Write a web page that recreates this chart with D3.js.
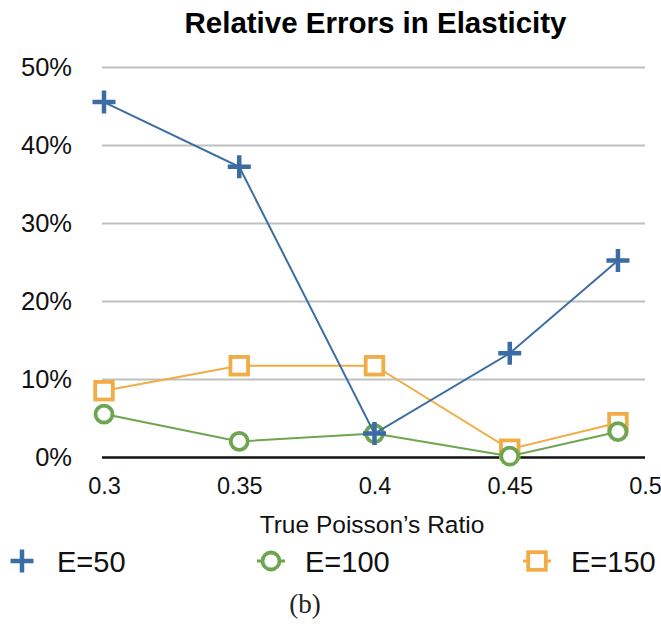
<!DOCTYPE html>
<html><head><meta charset="utf-8">
<script src="https://cdn.jsdelivr.net/npm/d3@7"></script>
<style>body{margin:0;background:#fff}svg{display:block}</style>
</head><body>
<script>
const xValues = [0.3, 0.35, 0.4, 0.45, 0.49];
const e50 = [45.5, 37.2, 3.0, 13.3, 25.2];
const e100 = [5.5, 2.0, 3.0, 0.1, 3.25];
const e150 = [8.5, 11.7, 11.7, 1.0, 4.4];
const seriesNames = ["E=50", "E=100", "E=150"];
const xTicks = [0.3, 0.35, 0.4, 0.45, 0.5];
const yTicks = [0, 10, 20, 30, 40, 50];

const W = 661, H = 633;
const font = "'Liberation Sans', Arial, Helvetica, sans-serif";
const svg = d3.select("body").append("svg").attr("width", W).attr("height", H);

const x = d3.scaleLinear().domain([0.3, 0.5]).range([104, 645]);
const y = d3.scaleLinear().domain([0, 50]).range([457, 67]);

const series = [
  {name: seriesNames[2], values: e150, color: "#f0ad45", shape: "square"},
  {name: seriesNames[1], values: e100, color: "#6ea551", shape: "circle"},
  {name: seriesNames[0], values: e50, color: "#3b6da4", shape: "plus"}
];

// title
svg.append("text").attr("x", 375.5).attr("y", 33).attr("text-anchor", "middle")
  .attr("font-family", font).attr("font-weight", "bold").attr("font-size", 29.5).attr("fill", "#000").text("Relative Errors in Elasticity");

// y axis + gridlines
const yAxis = d3.axisLeft(y).tickValues(yTicks).tickFormat(d => d + "%").tickSize(0).tickPadding(10);
const gy = svg.append("g").attr("transform", "translate(104,0)").call(yAxis);
gy.select(".domain").remove();
gy.selectAll(".tick line").attr("x1", -2).attr("x2", 645 - 104).attr("stroke", "#c0c0c0").attr("stroke-width", 2);
gy.selectAll(".tick text").attr("font-family", font).attr("font-size", 25.5).attr("fill", "#111").attr("x", -32);
gy.selectAll(".tick").filter(d => d === 0).select("line").attr("stroke", "#111").attr("stroke-width", 2.5);

const xAxis = d3.axisBottom(x).tickValues(xTicks).tickFormat(d => String(d)).tickSize(0).tickPadding(20);
const gx = svg.append("g").attr("transform", "translate(0,457)").call(xAxis);
gx.select(".domain").remove();
gx.selectAll(".tick text").attr("font-family", font).attr("font-size", 23.5).attr("fill", "#111");

svg.append("text").attr("x", 372).attr("y", 533).attr("text-anchor", "middle")
  .attr("font-family", font).attr("font-size", 24.5).attr("fill", "#111").text("True Poisson\u2019s Ratio");

function drawMarker(g, shape, color, cx, cy) {
  if (shape === "plus") {
    g.append("path").attr("d", `M${cx-11.5},${cy}H${cx+11.5}M${cx},${cy-11.5}V${cy+11.5}`)
      .attr("stroke", color).attr("stroke-width", 4.5).attr("fill", "none");
  } else if (shape === "circle") {
    g.append("circle").attr("cx", cx).attr("cy", cy).attr("r", 8.5)
      .attr("fill", "#fff").attr("stroke", color).attr("stroke-width", 3.8);
  } else {
    g.append("rect").attr("x", cx - 8.8).attr("y", cy - 8.8).attr("width", 17.6).attr("height", 17.6)
      .attr("fill", "#fff").attr("stroke", color).attr("stroke-width", 3.8);
  }
}

const line = d3.line().x((d, i) => x(xValues[i])).y(d => y(d));
series.forEach(s => {
  const g = svg.append("g");
  g.append("path").attr("d", line(s.values)).attr("fill", "none").attr("stroke", s.color).attr("stroke-width", 2);
  s.values.forEach((v, i) => drawMarker(g, s.shape, s.color, x(xValues[i]), y(v)));
});

// legend
const legendX = [22, 271, 537];
const legendTextX = [57, 305, 571];
[series[2], series[1], series[0]].forEach((s, i) => {
  const g = svg.append("g");
  const lx = legendX[i];
  if (s.shape !== "plus") {
    g.append("line").attr("x1", lx - 14).attr("x2", lx + 14).attr("y1", 561).attr("y2", 561).attr("stroke", s.color).attr("stroke-width", 3);
  }
  drawMarker(g, s.shape, s.color, lx, 561);
  g.append("text").attr("x", legendTextX[i]).attr("y", 572).attr("font-family", font).attr("font-size", 29).attr("fill", "#111").text(s.name);
});

svg.append("text").attr("x", 305).attr("y", 613).attr("text-anchor", "middle")
  .attr("font-family", "'Liberation Serif', 'DejaVu Serif', serif").attr("font-size", 27).attr("fill", "#222").text("(b)");
</script>
</body></html>
